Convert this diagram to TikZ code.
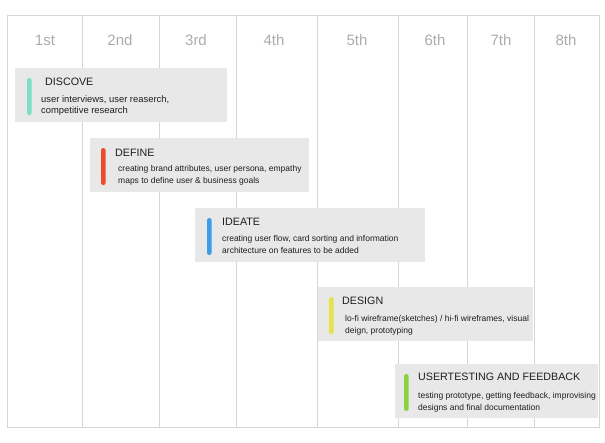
\documentclass[tikz,border=0pt]{standalone}
\usepackage{fontspec}
\setmainfont{Liberation Sans}
\usetikzlibrary{
  positioning,
}
\definecolor{gridc}{HTML}{D9D5D5}
\definecolor{cardc}{HTML}{E8E8E8}
\definecolor{headc}{HTML}{ABABAB}
\definecolor{ink}{HTML}{1E1E1E}
\definecolor{tealc}{HTML}{7DDFC8}
\definecolor{redc}{HTML}{EE4B2B}
\definecolor{bluec}{HTML}{3C9EE8}
\definecolor{yelc}{HTML}{E4E448}
\definecolor{greenc}{HTML}{8AD33F}

\begin{document}
\begin{tikzpicture}[
    x = 1pt,
    y = -1pt,
    node distance=10pt,
    g/.style={draw=gridc, line width=0.9pt},
    card/.style={
      fill=cardc, minimum height=54pt,
      inner sep=0pt, outer sep=0pt, anchor=north west,
    },
    bar/.style={
      rounded corners=2.2pt, minimum width=4.6pt, minimum height=37pt,
      inner sep=0pt, outer sep=0pt,
    },
    t/.style={font=\fontsize{10.7}{12}\selectfont, text=ink, inner sep=0pt},
    d/.style={font=\fontsize{8.5}{12}\selectfont, text=ink, inner sep=0pt,
      align=left},
    h/.style={font=\fontsize{15}{18}\selectfont, text=headc},]
  \useasboundingbox (0,0) rectangle (605,442);
  %% grid
  \draw[g] (7,15) rectangle (599,427);
  \draw[g] (82,15) -- (82,427);
  \draw[g] (159,15) -- (159,427);
  \draw[g] (236,15) -- (236,427);
  \draw[g] (317,15) -- (317,427);
  \draw[g] (398,15) -- (398,427);
  \draw[g] (467,15) -- (467,427);
  \draw[g] (534,15) -- (534,427);
  %% column heads
  \node[h] (C1) at (45,40) {1st};
  \node[h] (C2) at (120,40) {2nd};
  \node[h] (C3) at (196,40) {3rd};
  \node[h] (C4) at (274,40) {4th};
  \node[h] (C5) at (357,40) {5th};
  \node[h] (C6) at (435,40) {6th};
  \node[h] (C7) at (501,40) {7th};
  \node[h] (C8) at (566,40) {8th};
  %% discover
  \node[card, minimum width=212pt] (Disc) at (15,68) {};
  \node[bar, fill=tealc, right=12pt of Disc.west, yshift=-1.5pt] (DiscB) {};
  \node[t, below right=10pt and 30pt of Disc.north west] (DiscT) {DISCOVE};
  \node[d, font=\fontsize{9.4}{11}\selectfont,
  below right=27.5pt and 26pt of Disc.north west]
  (DiscD) {user interviews, user reaserch,\\competitive research};
  %% define
  \node[card, minimum width=219pt] (Def) at (90,138) {};
  \node[bar, fill=redc, right=11pt of Def.west, yshift=-1.5pt] (DefB) {};
  \node[t, below right=11pt and 25pt of Def.north west] (DefT) {DEFINE};
  \node[d, below right=27pt and 28pt of Def.north west]
  (DefD) {creating brand attributes, user persona, empathy\\
    maps to define user \& business goals};
  %% ideate
  \node[card, minimum width=230pt] (Idea) at (195,208) {};
  \node[bar, fill=bluec, right=12pt of Idea.west, yshift=-1.5pt] (IdeaB) {};
  \node[t, below right=10pt and 27pt of Idea.north west] (IdeaT) {IDEATE};
  \node[d, below right=27pt and 27pt of Idea.north west]
  (IdeaD) {creating user flow, card sorting and information\\
    architecture on features to be added};
  %% design
  \node[card, minimum width=215pt] (Des) at (318,287) {};
  \node[bar, fill=yelc, right=11pt of Des.west, yshift=-1.5pt] (DesB) {};
  \node[t, below right=10pt and 24pt of Des.north west] (DesT) {DESIGN};
  \node[d, below right=28pt and 27pt of Des.north west]
  (DesD) {lo-fi wireframe(sketches) / hi-fi wireframes, visual\\
    deign, prototyping};
  %% usertesting
  \node[card, minimum width=203pt] (Test) at (395,364) {};
  \node[bar, fill=greenc, right=9pt of Test.west, yshift=-1.5pt] (TestB) {};
  \node[t, below right=9pt and 23pt of Test.north west]
  (TestT) {USERTESTING AND FEEDBACK};
  \node[d, below right=28pt and 23pt of Test.north west]
  (TestD) {testing prototype, getting feedback, improvising\\
    designs and final documentation};
\end{tikzpicture}
\end{document}
